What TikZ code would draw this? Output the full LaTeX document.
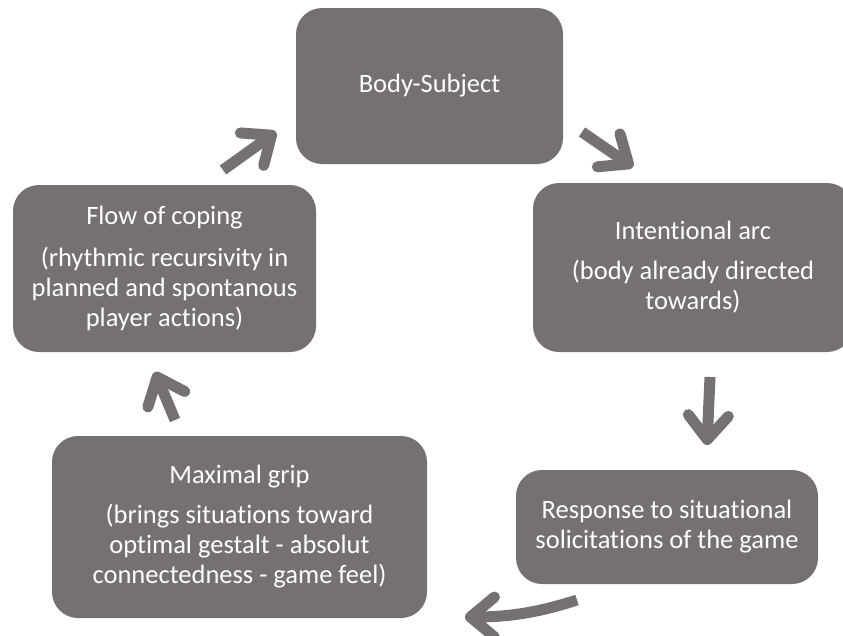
\documentclass[tikz,border=0pt]{standalone}
\usepackage{fontspec}
\setmainfont{Carlito}[Ligatures=NoCommon]
\usepackage{tikz}
\usetikzlibrary{arrows.meta}
\usetikzlibrary{positioning}
\definecolor{boxgray}{HTML}{767171}

\begin{document}
\begin{tikzpicture}[x=1pt,y=-1pt,
  box node/.style={rectangle,rounded corners=26pt,fill=boxgray,text=white,align=center,
    inner sep=0pt,font=\fontsize{26.5pt}{30pt}\selectfont},
  cycle arrow/.style={draw=boxgray,line width=11pt,
    -{Straight Barb[length=24pt,width=40pt,round]}}]
  \useasboundingbox (0,0) rectangle (843,635);

  \node[box node,minimum width=267pt,minimum height=156pt] (body) at (429.5,86) {Body-Subject};
  \node[box node,minimum width=320pt,minimum height=169pt] (intent) at (693,267.5)
    {Intentional arc\\[10pt](body already directed\\towards)};
  \node[box node,minimum width=302pt,minimum height=114pt] (response) at (667,527)
    {Response to situational\\solicitations of the game};
  \node[box node,minimum width=375pt,minimum height=182pt] (grip) at (239.5,527)
    {Maximal grip\\[10pt](brings situations toward\\optimal gestalt - absolut\\connectedness - game feel)};
  \node[box node,minimum width=303pt,minimum height=167pt] (flow) at (164.5,268.5)
    {Flow of coping\\[12pt](rhythmic recursivity in\\planned and spontanous\\player actions)};

  \coordinate (a1s) at (223,170);  \coordinate (a1e) at (276,132);
  \coordinate (a2s) at (582,132);  \coordinate (a2e) at (633,167);
  \coordinate (a3s) at (710,377);  \coordinate (a3e) at (707,445);
  \coordinate (a4s) at (577,600);  \coordinate (a4e) at (465,617);
  \coordinate (a5s) at (175,420);  \coordinate (a5e) at (155,372);

  \path[cycle arrow] (a1s) -- (a1e);
  \path[cycle arrow] (a2s) -- (a2e);
  \path[cycle arrow] (a3s) -- (a3e);
  \path[cycle arrow] (a4s) .. controls (540,612) and (510,617) .. (a4e);
  \path[cycle arrow] (a5s) -- (a5e);
\end{tikzpicture}
\end{document}
